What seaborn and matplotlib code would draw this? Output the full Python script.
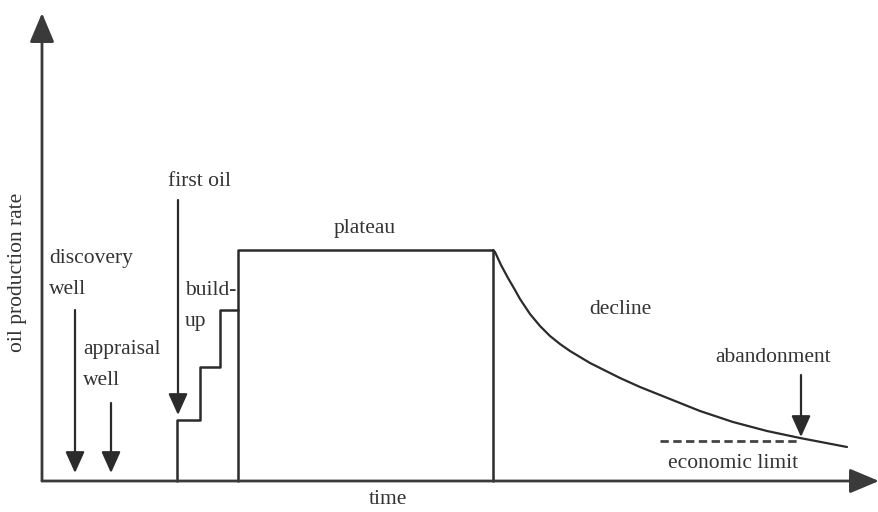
"""Schematic oil field production profile: build-up, plateau, decline."""
import matplotlib
matplotlib.use("Agg")
import matplotlib.pyplot as plt
import seaborn as sns

# production profile (time, rate) in arbitrary schematic units
build_time = [135, 135, 158, 158, 178, 178, 196, 196, 451, 451]
build_rate = [0, 61, 61, 114, 114, 171, 171, 231, 231, 0]
step_time = [196, 196]
step_rate = [0, 171]
decline_time = [451, 453, 459, 466, 473, 478, 488, 498, 508, 518, 528, 538,
                548, 558, 578, 598, 618, 638, 658, 691, 725, 758, 805]
decline_rate = [231, 229, 216, 203, 191, 182, 167, 155, 145, 137, 130, 124,
                118, 113, 103, 94, 86, 78, 70, 59, 50, 43, 34]
limit_time = [618, 758]
limit_rate = [40, 40]

# event arrows: time, rate at arrow tail, rate at arrow head
events_time = [33, 69, 136, 759]
events_top = [171, 78, 281, 106]
events_bottom = [8, 8, 66, 44]

sns.set_style("white")
plt.rcParams["font.family"] = ["Liberation Serif", "DejaVu Serif"]

INK = "#2b2b2b"
TXT = "#333333"
FS = 15.5

fig = plt.figure(figsize=(8.79, 5.12), dpi=100)
ax = fig.add_axes([0, 0, 1, 1])
ax.set_xlim(-42, 837)
ax.set_ylim(-31, 481)
ax.axis("off")

sns.lineplot(x=build_time, y=build_rate, sort=False, estimator=None,
             color=INK, lw=1.8, ax=ax)
sns.lineplot(x=step_time, y=step_rate, sort=False, estimator=None,
             color=INK, lw=1.8, ax=ax)
sns.lineplot(x=decline_time, y=decline_rate, sort=False, estimator=None,
             color=INK, lw=1.6, ax=ax)
sns.lineplot(x=limit_time, y=limit_rate, sort=False, estimator=None,
             color="#444444", lw=2.0, ls=(0, (3, 1.6)), ax=ax)

# axes drawn as arrows
head = dict(arrowstyle="-|>,head_length=1.0,head_width=0.42",
            mutation_scale=18, color="#3a3a3a", lw=2.0, shrinkA=0, shrinkB=0)
ax.annotate("", xy=(0, 468), xytext=(0, 0), arrowprops=head)
ax.annotate("", xy=(837, 0), xytext=(0, 0), arrowprops=head)

small = dict(arrowstyle="-|>,head_length=1.0,head_width=0.45",
             mutation_scale=13, color=INK, lw=1.6, shrinkA=0, shrinkB=0)
for t, top, bot in zip(events_time, events_top, events_bottom):
    ax.annotate("", xy=(t, bot), xytext=(t, top), arrowprops=small)

labels = [
    ("oil production rate", -24, 209, "center", 90),
    ("time", 346, -19, "center", 0),
    ("discovery\nwell", 7, 207, "left", 0),
    ("appraisal\nwell", 41, 116, "left", 0),
    ("first oil", 158, 300, "center", 0),
    ("build-\nup", 143, 175, "left", 0),
    ("plateau", 323, 253, "center", 0),
    ("decline", 578, 171, "center", 0),
    ("abandonment", 731, 123, "center", 0),
    ("economic limit", 691, 18, "center", 0),
]
for text, t, r, ha, rot in labels:
    ax.text(t, r, text, ha=ha, va="center", rotation=rot, fontsize=FS,
            color=TXT, linespacing=1.9)

fig.savefig("out.png", dpi=100, facecolor="white")
